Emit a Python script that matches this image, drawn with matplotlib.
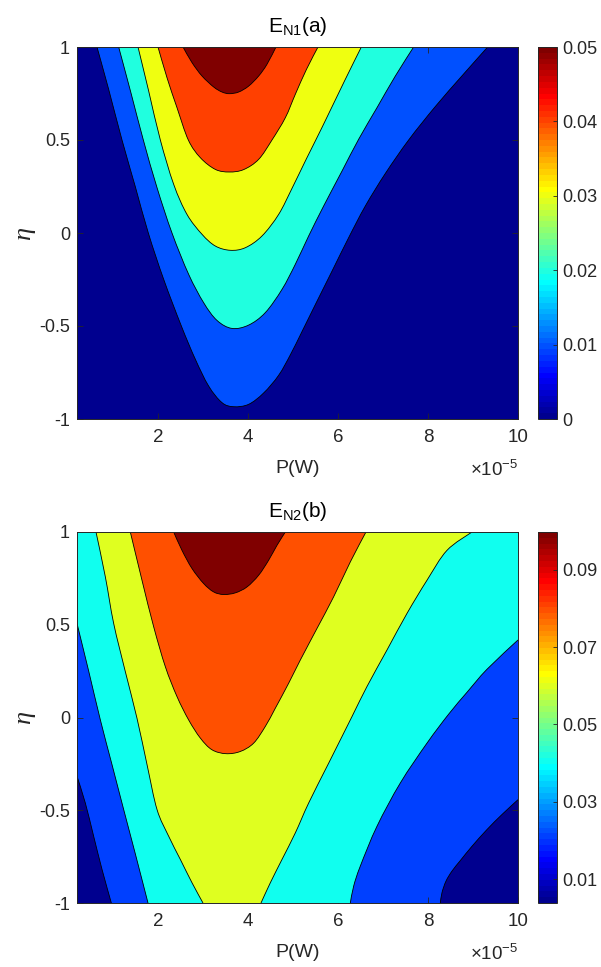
import matplotlib
matplotlib.use("Agg")
import numpy as np
import matplotlib.pyplot as plt
from matplotlib.colors import Normalize, ListedColormap
from matplotlib.cm import ScalarMappable
from matplotlib.path import Path
from matplotlib.patches import PathPatch

plt.rcParams.update({
    "font.family": ["Liberation Sans", "DejaVu Sans"],
    "axes.unicode_minus": False,
    "mathtext.fontset": "custom",
    "mathtext.rm": "Liberation Sans",
    "mathtext.it": "Liberation Sans:italic",
    "mathtext.bf": "Liberation Sans:bold",
})

# ---------------- data (P in units of 1e-5 W) ----------------
P_MIN, P_MAX = 0.2, 10.0
ETA_MIN, ETA_MAX = -1.0, 1.0

x_ticks = [2, 4, 6, 8, 10]
x_ticklabels = ["2", "4", "6", "8", "10"]
y_ticks = [-1, -0.5, 0, 0.5, 1]
y_ticklabels = ["-1", "-0.5", "0", "0.5", "1"]

# panel (a): contour levels and colour limits
a_levels = [0.0, 0.01, 0.02, 0.03, 0.04, 0.05]
a_clim = (0.0, 0.05)
a_cticks = [0, 0.01, 0.02, 0.03, 0.04, 0.05]
a_cticklabels = ["0", "0.01", "0.02", "0.03", "0.04", "0.05"]

# panel (a) contour curves (U shaped, top -> bottom -> top)
a_L1_P = [0.644, 0.904, 1.2, 1.496, 1.785, 2.126, 2.519, 2.83, 3.126, 3.422, 3.681,
          4.015, 4.348, 4.681, 4.941, 5.2, 5.496, 5.867, 6.237, 6.607, 7.052, 7.570,
          8.163, 8.756, 9.326]
a_L1_eta = [1.0, 0.772, 0.5, 0.249, 0.0, -0.249, -0.5, -0.679, -0.823, -0.912, -0.934,
            -0.921, -0.86, -0.765, -0.655, -0.53, -0.385, -0.205, -0.025, 0.145, 0.32,
            0.50, 0.68, 0.845, 1.0]
a_L2_P = [1.126, 1.407, 1.674, 1.978, 2.311, 2.681, 3.015, 3.311, 3.644, 4.015, 4.385,
          4.756, 5.052, 5.348, 5.681, 6.089, 6.459, 6.867, 7.274, 7.681]
a_L2_eta = [1.0, 0.746, 0.5, 0.244, 0.0, -0.222, -0.375, -0.470, -0.513, -0.495, -0.428,
            -0.303, -0.168, -0.016, 0.145, 0.333, 0.504, 0.674, 0.844, 1.0]
a_L3_P = [1.556, 1.793, 2.052, 2.348, 2.644, 2.978, 3.274, 3.607, 3.941, 4.311, 4.681,
          4.978, 5.3, 5.65, 6.15, 6.519]
a_L3_eta = [1.0, 0.763, 0.5, 0.262, 0.100, -0.007, -0.070, -0.093, -0.079, -0.016, 0.100,
            0.24, 0.40, 0.57, 0.82, 1.0]
a_L4_P = [2.0, 2.2, 2.422, 2.674, 2.941, 3.274, 3.585, 3.904, 4.237, 4.533, 4.830, 5.052,
          5.3, 5.556]
a_L4_eta = [1.0, 0.835, 0.674, 0.5, 0.405, 0.342, 0.328, 0.341, 0.396, 0.5, 0.62, 0.746,
            0.88, 1.0]
a_L5_P = [2.556, 2.756, 2.978, 3.237, 3.422, 3.585, 3.793, 4.015, 4.237, 4.422, 4.622]
a_L5_eta = [1.0, 0.916, 0.844, 0.785, 0.758, 0.749, 0.758, 0.790, 0.844, 0.907, 1.0]

# panel (b): contour levels and colour limits
b_levels = [0.0038, 0.021, 0.0405, 0.060, 0.0798, 0.0998]
b_clim = (0.0038, 0.0998)
b_cticks = [0.01, 0.03, 0.05, 0.07, 0.09]
b_cticklabels = ["0.01", "0.03", "0.05", "0.07", "0.09"]

# panel (b) contour curves
b_B1L_P = [0.2, 0.385, 0.570, 0.756, 0.963]
b_B1L_eta = [-0.317, -0.461, -0.640, -0.819, -1.0]
b_B1R_P = [8.274, 8.311, 8.4, 8.533, 8.719, 8.978, 9.311, 9.644, 10.0]
b_B1R_eta = [-1.0, -0.944, -0.882, -0.828, -0.771, -0.694, -0.604, -0.523, -0.443]
b_B2L_P = [0.2, 0.459, 0.719, 0.978, 1.237, 1.496, 1.778]
b_B2L_eta = [0.507, 0.251, -0.013, -0.254, -0.496, -0.735, -1.0]
b_B2R_P = [6.274, 6.348, 6.496, 6.867, 7.385, 7.978, 8.459, 8.867, 9.311, 10.0]
b_B2R_eta = [-1.0, -0.909, -0.801, -0.586, -0.353, -0.138, 0.018, 0.136, 0.260, 0.418]
b_B3L_P = [0.622, 0.830, 1.015, 1.274, 1.533, 1.756, 1.978, 2.237, 2.496, 2.756, 3.0]
b_B3L_eta = [1.0, 0.758, 0.507, 0.247, -0.004, -0.254, -0.496, -0.640, -0.765, -0.891, -1.0]
b_B3R_P = [4.289, 4.496, 4.756, 5.052, 5.348, 5.793, 6.311, 6.644, 7.089, 7.533, 7.978,
           8.422, 8.978]
b_B3R_eta = [-1.0, -0.891, -0.765, -0.622, -0.461, -0.246, 0.005, 0.167, 0.364, 0.561,
             0.740, 0.901, 1.0]
b_B4_P = [1.385, 1.644, 1.904, 2.163, 2.422, 2.681, 2.941, 3.2, 3.511, 3.830, 4.126, 4.385,
          4.607, 4.904, 5.163, 5.533, 5.904, 6.274, 6.622]
b_B4_eta = [1.0, 0.740, 0.489, 0.274, 0.113, -0.013, -0.111, -0.174, -0.195, -0.183,
            -0.138, -0.048, 0.050, 0.185, 0.310, 0.480, 0.651, 0.839, 1.0]
b_B5_P = [2.348, 2.533, 2.756, 3.015, 3.237, 3.459, 3.719, 3.978, 4.237, 4.459, 4.644, 4.830]
b_B5_eta = [1.0, 0.901, 0.803, 0.722, 0.677, 0.663, 0.672, 0.704, 0.767, 0.848, 0.928, 1.0]


# ---------------- MATLAB-style jet(64) colormap ----------------
def matlab_jet(m=64):
    n = int(np.ceil(m / 4))
    u = np.concatenate([np.arange(1, n + 1) / n, np.ones(n - 1), np.arange(n, 0, -1) / n])
    g = int(np.ceil(n / 2)) - (1 if m % 4 == 1 else 0) + np.arange(1, len(u) + 1)
    r = g + n
    b = g - n
    J = np.zeros((m, 3))
    ok = (r >= 1) & (r <= m)
    J[r[ok] - 1, 0] = u[ok]
    ok = (g >= 1) & (g <= m)
    J[g[ok] - 1, 1] = u[ok]
    ok = (b >= 1) & (b <= m)
    J[b[ok] - 1, 2] = u[ok]
    return ListedColormap(J, name="matlab_jet")


cmap = matlab_jet(64)


# ---------------- smooth paths through the read points ----------------
def build_path(pieces, closed=True):
    verts, codes = [], []
    for kind, xs, ys in pieces:
        pts = np.column_stack([xs, ys]).astype(float)
        first_code = Path.MOVETO if not verts else Path.LINETO
        verts.append(pts[0])
        codes.append(first_code)
        if kind == "line" or len(pts) < 3:
            for p in pts[1:]:
                verts.append(p)
                codes.append(Path.LINETO)
            continue
        npt = len(pts)
        for i in range(npt - 1):
            p0 = pts[i - 1] if i > 0 else pts[i]
            p1 = pts[i]
            p2 = pts[i + 1]
            p3 = pts[i + 2] if i + 2 < npt else pts[i + 1]
            c1 = p1 + (p2 - p0) / 6.0
            c2 = p2 - (p3 - p1) / 6.0
            verts.extend([c1, c2, p2])
            codes.extend([Path.CURVE4] * 3)
    if closed:
        verts.append(verts[0])
        codes.append(Path.CLOSEPOLY)
    return Path(np.array(verts), codes)


def side_region(left_P, left_eta, right_P, right_eta):
    return [("line", [P_MIN], [ETA_MAX]), ("curve", left_P, left_eta),
            ("curve", right_P, right_eta), ("line", [P_MAX], [ETA_MAX])]


a_regions = [[("curve", a_L1_P, a_L1_eta)], [("curve", a_L2_P, a_L2_eta)],
             [("curve", a_L3_P, a_L3_eta)], [("curve", a_L4_P, a_L4_eta)],
             [("curve", a_L5_P, a_L5_eta)]]
a_lines = [(a_L1_P, a_L1_eta), (a_L2_P, a_L2_eta), (a_L3_P, a_L3_eta),
           (a_L4_P, a_L4_eta), (a_L5_P, a_L5_eta)]

b_regions = [side_region(b_B1L_P, b_B1L_eta, b_B1R_P, b_B1R_eta),
             side_region(b_B2L_P, b_B2L_eta, b_B2R_P, b_B2R_eta),
             [("curve", b_B3L_P, b_B3L_eta), ("curve", b_B3R_P, b_B3R_eta)],
             [("curve", b_B4_P, b_B4_eta)],
             [("curve", b_B5_P, b_B5_eta)]]
b_lines = [(b_B1L_P, b_B1L_eta), (b_B1R_P, b_B1R_eta), (b_B2L_P, b_B2L_eta),
           (b_B2R_P, b_B2R_eta), (b_B3L_P, b_B3L_eta), (b_B3R_P, b_B3R_eta),
           (b_B4_P, b_B4_eta), (b_B5_P, b_B5_eta)]

# ---------------- figure ----------------
W, H = 601, 967
fig = plt.figure(figsize=(W / 100, H / 100), dpi=100)
AX_COLOR = "#262626"


def fr(x0, y0, x1, y1):
    return [x0 / W, 1 - y1 / H, (x1 - x0) / W, (y1 - y0) / H]


def panel(ax_rect, cax_rect, regions, lines, levels, clim, cticks, cticklabels, title):
    ax = fig.add_axes(fr(*ax_rect))
    cax = fig.add_axes(fr(*cax_rect))
    norm = Normalize(*clim)
    ax.set_facecolor(cmap(norm(levels[0])))
    for k, pieces in enumerate(regions):
        patch = PathPatch(build_path(pieces, closed=True),
                          facecolor=cmap(norm(levels[k + 1])), edgecolor="none",
                          lw=0, zorder=1 + k)
        ax.add_patch(patch)
    for xs, ys in lines:
        patch = PathPatch(build_path([("curve", xs, ys)], closed=False),
                          facecolor="none", edgecolor="k", lw=0.6, zorder=20)
        ax.add_patch(patch)
    ax.set_xlim(P_MIN, P_MAX)
    ax.set_ylim(ETA_MIN, ETA_MAX)
    ax.set_xticks(x_ticks)
    ax.set_xticklabels(x_ticklabels)
    ax.set_yticks(y_ticks)
    ax.set_yticklabels(y_ticklabels)
    ax.tick_params(direction="in", top=True, right=True, length=4, width=0.6,
                   color=AX_COLOR, labelcolor=AX_COLOR, labelsize=13)
    ax.tick_params(axis="x", pad=7, labelsize=13.5)
    ax.tick_params(axis="y", pad=5)
    for s in ax.spines.values():
        s.set_color(AX_COLOR)
        s.set_linewidth(0.7)
        s.set_zorder(30)
    ax.set_xlabel("P(W)", fontsize=14, color=AX_COLOR, labelpad=10)
    ax.set_ylabel("\u03b7", fontsize=19, color=AX_COLOR, labelpad=3,
                  family=["Liberation Serif", "DejaVu Serif"], style="italic")
    ax.set_title(title, fontsize=15, color="black", pad=11)
    ax.text(1.0, -0.153, r"$\times$10$^{\mathrm{-5}}$", transform=ax.transAxes,
            ha="right", va="baseline", fontsize=13.5, color=AX_COLOR)

    sm = ScalarMappable(norm=norm, cmap=cmap)
    cb = fig.colorbar(sm, cax=cax, ticks=cticks)
    cb.set_ticklabels(cticklabels)
    cb.outline.set_edgecolor(AX_COLOR)
    cb.outline.set_linewidth(0.7)
    cax.tick_params(direction="in", length=3, width=0.6, color=AX_COLOR,
                    labelcolor=AX_COLOR, labelsize=13, pad=4)
    return ax


panel((77, 47, 518, 419), (538, 47, 557, 419), a_regions, a_lines,
      a_levels, a_clim, a_cticks, a_cticklabels, r"E$_{\mathrm{N1}}$(a)")
panel((77, 532, 518, 903), (538, 532, 557, 903), b_regions, b_lines,
      b_levels, b_clim, b_cticks, b_cticklabels, r"E$_{\mathrm{N2}}$(b)")

fig.savefig("out.png", dpi=100)
